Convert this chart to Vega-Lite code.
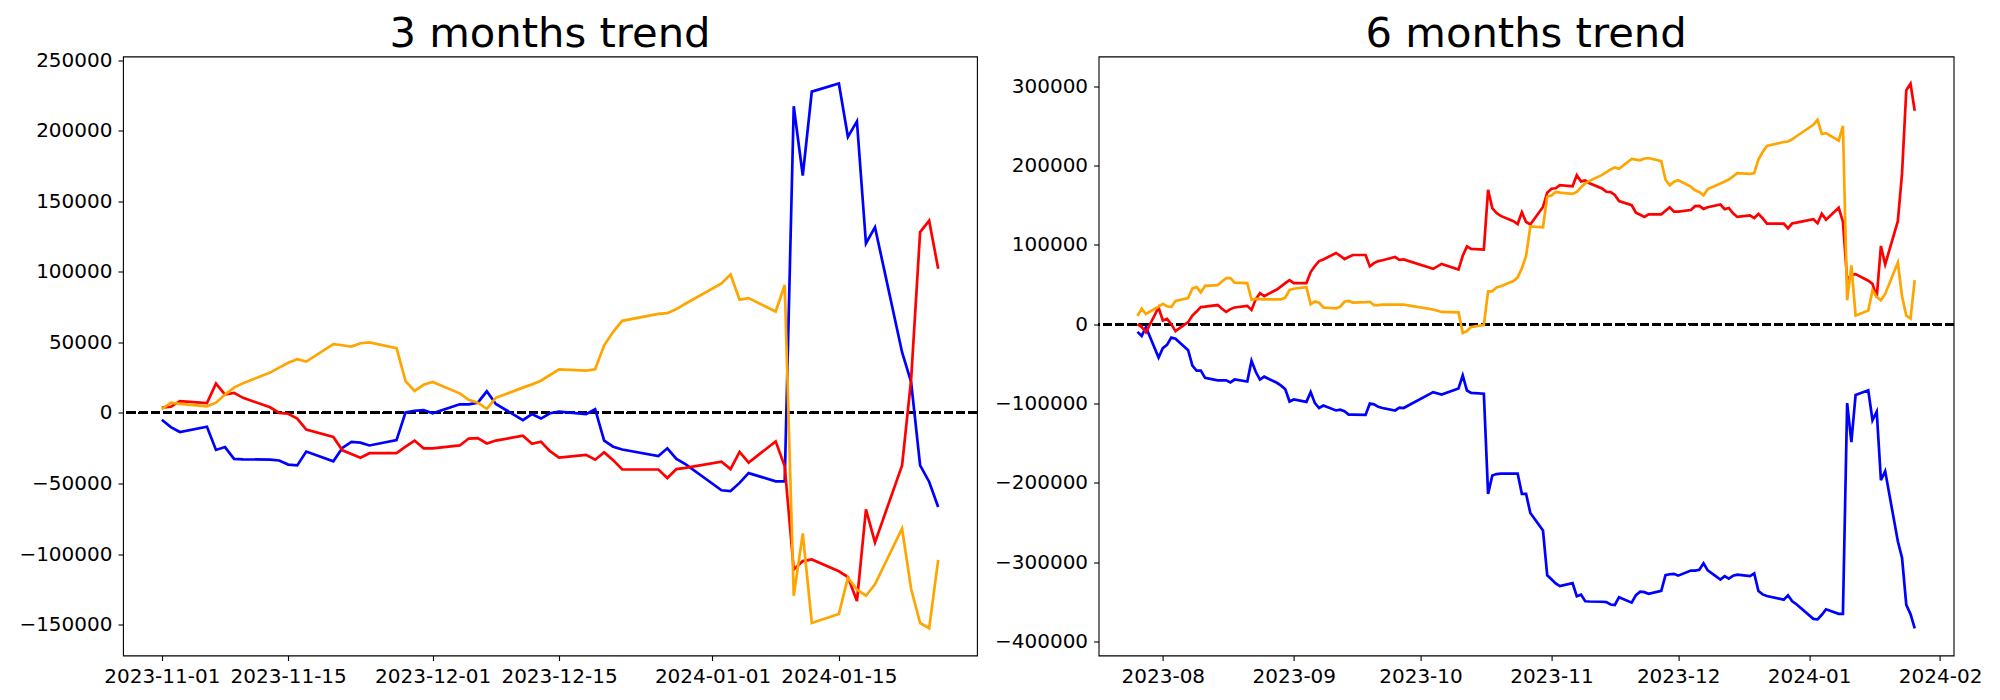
{
  "$schema": "https://vega.github.io/schema/vega-lite/v6.json",
  "background": "white",
  "padding": {"left": 18, "top": 12.5, "right": 0, "bottom": 0},
  "spacing": 121.6,
  "bounds": "flush",
  "config": {
    "font": "DejaVu Sans",
    "view": {"stroke": "black", "strokeWidth": 1.1},
    "axis": {
      "grid": false, "domain": false, "ticks": true, "tickColor": "black", "tickWidth": 1.1, "tickSize": 5,
      "labelFont": "DejaVu Sans", "labelFontSize": 20, "labelColor": "black", "labelPadding": 6,
      "labelOverlap": false, "labelFlush": false, "title": null
    },
    "title": {"font": "DejaVu Sans", "fontSize": 41.7, "fontWeight": "normal", "color": "black", "anchor": "middle", "frame": "group", "baseline": "alphabetic"}
  },
  "datasets": {
    "m3": [
      {"date":"2023-11-01","s1":-4900,"s2":3750,"s3":2600},
      {"date":"2023-11-02","s1":-10100,"s2":4330,"s3":7210},
      {"date":"2023-11-03","s1":-13560,"s2":8370,"s3":6350},
      {"date":"2023-11-06","s1":-9810,"s2":6920,"s3":4620},
      {"date":"2023-11-07","s1":-26250,"s2":20770,"s3":7210},
      {"date":"2023-11-08","s1":-24230,"s2":12980,"s3":12980},
      {"date":"2023-11-09","s1":-32600,"s2":14140,"s3":17890},
      {"date":"2023-11-10","s1":-32900,"s2":10670,"s3":21060},
      {"date":"2023-11-13","s1":-33180,"s2":4000,"s3":28560},
      {"date":"2023-11-14","s1":-33750,"s2":0,"s3":32020},
      {"date":"2023-11-15","s1":-36640,"s2":-580,"s3":35490},
      {"date":"2023-11-16","s1":-37220,"s2":-4040,"s3":38080},
      {"date":"2023-11-17","s1":-27400,"s2":-11830,"s3":36350},
      {"date":"2023-11-20","s1":-34330,"s2":-17020,"s3":48760},
      {"date":"2023-11-21","s1":-24810,"s2":-26540,"s3":47890},
      {"date":"2023-11-22","s1":-20480,"s2":-29140,"s3":47030},
      {"date":"2023-11-23","s1":-21060,"s2":-31740,"s3":49330},
      {"date":"2023-11-24","s1":-23080,"s2":-28560,"s3":49910},
      {"date":"2023-11-27","s1":-19330,"s2":-28560,"s3":45870},
      {"date":"2023-11-28","s1":300,"s2":-23950,"s3":22500},
      {"date":"2023-11-29","s1":1440,"s2":-19620,"s3":15580},
      {"date":"2023-11-30","s1":2020,"s2":-25100,"s3":19910},
      {"date":"2023-12-01","s1":-290,"s2":-25100,"s3":21930},
      {"date":"2023-12-04","s1":6060,"s2":-23080,"s3":13850},
      {"date":"2023-12-05","s1":6060,"s2":-18180,"s3":9230},
      {"date":"2023-12-06","s1":7210,"s2":-17890,"s3":7210},
      {"date":"2023-12-07","s1":15290,"s2":-21640,"s3":2890},
      {"date":"2023-12-08","s1":6350,"s2":-19620,"s3":10670},
      {"date":"2023-12-11","s1":-5190,"s2":-16160,"s3":17890},
      {"date":"2023-12-12","s1":-870,"s2":-21930,"s3":20200},
      {"date":"2023-12-13","s1":-4040,"s2":-20480,"s3":22790},
      {"date":"2023-12-14","s1":-290,"s2":-27120,"s3":26830},
      {"date":"2023-12-15","s1":870,"s2":-31740,"s3":30870},
      {"date":"2023-12-18","s1":-870,"s2":-29720,"s3":30000},
      {"date":"2023-12-19","s1":2600,"s2":-33180,"s3":30870},
      {"date":"2023-12-20","s1":-19620,"s2":-27980,"s3":47890},
      {"date":"2023-12-21","s1":-23950,"s2":-33470,"s3":57410},
      {"date":"2023-12-22","s1":-25970,"s2":-40100,"s3":65200},
      {"date":"2023-12-26","s1":-30580,"s2":-40100,"s3":70110},
      {"date":"2023-12-27","s1":-25100,"s2":-46160,"s3":70680},
      {"date":"2023-12-28","s1":-32600,"s2":-39810,"s3":73570},
      {"date":"2023-12-29","s1":-36350,"s2":-39000,"s3":77320},
      {"date":"2024-01-02","s1":-54800,"s2":-34620,"s3":91740},
      {"date":"2024-01-03","s1":-55390,"s2":-39810,"s3":98090},
      {"date":"2024-01-04","s1":-49620,"s2":-27700,"s3":80200},
      {"date":"2024-01-05","s1":-42700,"s2":-35200,"s3":81360},
      {"date":"2024-01-08","s1":-48470,"s2":-20200,"s3":71840},
      {"date":"2024-01-09","s1":-48470,"s2":-37790,"s3":90590},
      {"date":"2024-01-10","s1":217240,"s2":-111070,"s3":-129540},
      {"date":"2024-01-11","s1":168200,"s2":-105010,"s3":-85400},
      {"date":"2024-01-12","s1":227630,"s2":-103860,"s3":-148870},
      {"date":"2024-01-15","s1":233400,"s2":-112230,"s3":-142520},
      {"date":"2024-01-16","s1":195600,"s2":-116270,"s3":-116840},
      {"date":"2024-01-17","s1":206560,"s2":-133290,"s3":-125210},
      {"date":"2024-01-18","s1":120020,"s2":-68370,"s3":-129540},
      {"date":"2024-01-19","s1":131560,"s2":-91740,"s3":-121460},
      {"date":"2024-01-22","s1":42990,"s2":-37220,"s3":-81930},
      {"date":"2024-01-23","s1":21930,"s2":23370,"s3":-124630},
      {"date":"2024-01-24","s1":-37220,"s2":128090,"s3":-148870},
      {"date":"2024-01-25","s1":-48760,"s2":136170,"s3":-152620},
      {"date":"2024-01-26","s1":-66640,"s2":102130,"s3":-104150}
    ],
    "m6": [
      {"date":"2023-07-26","s1":-9750,"s2":0,"s3":10260},
      {"date":"2023-07-27","s1":-14880,"s2":-3590,"s3":19500},
      {"date":"2023-07-28","s1":-3590,"s2":-10260,"s3":12830},
      {"date":"2023-07-31","s1":-42080,"s2":21040,"s3":22000},
      {"date":"2023-08-01","s1":-30280,"s2":4620,"s3":25660},
      {"date":"2023-08-02","s1":-26170,"s2":6670,"s3":22600},
      {"date":"2023-08-03","s1":-16940,"s2":0,"s3":21500},
      {"date":"2023-08-04","s1":-18480,"s2":-8720,"s3":29300},
      {"date":"2023-08-07","s1":-32840,"s2":2570,"s3":33000},
      {"date":"2023-08-08","s1":-52350,"s2":10780,"s3":45150},
      {"date":"2023-08-09","s1":-58500,"s2":15900,"s3":46700},
      {"date":"2023-08-10","s1":-58500,"s2":21550,"s3":40030},
      {"date":"2023-08-11","s1":-67750,"s2":22070,"s3":48240},
      {"date":"2023-08-14","s1":-70820,"s2":24120,"s3":49270},
      {"date":"2023-08-15","s1":-70820,"s2":19500,"s3":53900},
      {"date":"2023-08-16","s1":-70820,"s2":15400,"s3":57990},
      {"date":"2023-08-17","s1":-73390,"s2":18990,"s3":57990},
      {"date":"2023-08-18","s1":-69800,"s2":21040,"s3":52350},
      {"date":"2023-08-21","s1":-72360,"s2":23090,"s3":51830},
      {"date":"2023-08-22","s1":-46190,"s2":17960,"s3":30790},
      {"date":"2023-08-23","s1":-60040,"s2":31310,"s3":31820},
      {"date":"2023-08-24","s1":-69800,"s2":39000,"s3":31500},
      {"date":"2023-08-25","s1":-66200,"s2":35410,"s3":31310},
      {"date":"2023-08-28","s1":-73900,"s2":43620,"s3":31310},
      {"date":"2023-08-29","s1":-77490,"s2":47730,"s3":31310},
      {"date":"2023-08-30","s1":-82110,"s2":51830,"s3":33360},
      {"date":"2023-08-31","s1":-97510,"s2":55430,"s3":43110},
      {"date":"2023-09-01","s1":-94940,"s2":51830,"s3":44650},
      {"date":"2023-09-04","s1":-98020,"s2":51830,"s3":46700},
      {"date":"2023-09-05","s1":-85700,"s2":65700,"s3":25150},
      {"date":"2023-09-06","s1":-99560,"s2":73400,"s3":28740},
      {"date":"2023-09-07","s1":-105720,"s2":79550,"s3":27200},
      {"date":"2023-09-08","s1":-102640,"s2":81600,"s3":21040},
      {"date":"2023-09-11","s1":-108800,"s2":89800,"s3":20010},
      {"date":"2023-09-12","s1":-107770,"s2":86200,"s3":22070},
      {"date":"2023-09-13","s1":-109820,"s2":82110,"s3":28230},
      {"date":"2023-09-14","s1":-113930,"s2":84680,"s3":29250},
      {"date":"2023-09-15","s1":-113930,"s2":87240,"s3":27200},
      {"date":"2023-09-18","s1":-114440,"s2":87240,"s3":27710},
      {"date":"2023-09-19","s1":-100070,"s2":72870,"s3":28230},
      {"date":"2023-09-20","s1":-101100,"s2":76980,"s3":24120},
      {"date":"2023-09-21","s1":-104180,"s2":79550,"s3":24120},
      {"date":"2023-09-22","s1":-105720,"s2":80570,"s3":24630},
      {"date":"2023-09-25","s1":-108800,"s2":84680,"s3":24630},
      {"date":"2023-09-26","s1":-105210,"s2":81090,"s3":24630},
      {"date":"2023-09-27","s1":-105720,"s2":81600,"s3":24630},
      {"date":"2023-10-04","s1":-85700,"s2":69800,"s3":18480},
      {"date":"2023-10-06","s1":-88780,"s2":75950,"s3":15400},
      {"date":"2023-10-10","s1":-81090,"s2":68770,"s3":14880},
      {"date":"2023-10-11","s1":-64660,"s2":86200,"s3":-11290},
      {"date":"2023-10-12","s1":-83650,"s2":98020,"s3":-8720},
      {"date":"2023-10-13","s1":-86730,"s2":94940,"s3":-3590},
      {"date":"2023-10-16","s1":-87760,"s2":93910,"s3":-1030},
      {"date":"2023-10-17","s1":-214000,"s2":169360,"s3":41060},
      {"date":"2023-10-18","s1":-190900,"s2":146260,"s3":41570},
      {"date":"2023-10-19","s1":-189000,"s2":140100,"s3":46190},
      {"date":"2023-10-20","s1":-188350,"s2":136510,"s3":47700},
      {"date":"2023-10-23","s1":-188350,"s2":129840,"s3":54400},
      {"date":"2023-10-24","s1":-188350,"s2":126250,"s3":59020},
      {"date":"2023-10-25","s1":-214000,"s2":141130,"s3":70310},
      {"date":"2023-10-26","s1":-214000,"s2":128810,"s3":86220},
      {"date":"2023-10-27","s1":-238120,"s2":125730,"s3":123170},
      {"date":"2023-10-30","s1":-260190,"s2":147800,"s3":122140},
      {"date":"2023-10-31","s1":-316640,"s2":165760,"s3":160630},
      {"date":"2023-11-01","s1":-321700,"s2":170750,"s3":162200},
      {"date":"2023-11-02","s1":-326900,"s2":171330,"s3":166810},
      {"date":"2023-11-03","s1":-330360,"s2":175370,"s3":165950},
      {"date":"2023-11-06","s1":-326610,"s2":173920,"s3":164220},
      {"date":"2023-11-07","s1":-343050,"s2":187770,"s3":166810},
      {"date":"2023-11-08","s1":-341030,"s2":179980,"s3":172580},
      {"date":"2023-11-09","s1":-349400,"s2":181140,"s3":177490},
      {"date":"2023-11-10","s1":-349700,"s2":177670,"s3":180660},
      {"date":"2023-11-13","s1":-349980,"s2":171000,"s3":188160},
      {"date":"2023-11-14","s1":-350550,"s2":167000,"s3":191620},
      {"date":"2023-11-15","s1":-353440,"s2":166420,"s3":195090},
      {"date":"2023-11-16","s1":-354020,"s2":162960,"s3":197680},
      {"date":"2023-11-17","s1":-344200,"s2":155170,"s3":195950},
      {"date":"2023-11-20","s1":-351130,"s2":149980,"s3":208360},
      {"date":"2023-11-21","s1":-341610,"s2":140460,"s3":207490},
      {"date":"2023-11-22","s1":-337280,"s2":137860,"s3":206630},
      {"date":"2023-11-23","s1":-337860,"s2":135260,"s3":208930},
      {"date":"2023-11-24","s1":-339880,"s2":138440,"s3":209510},
      {"date":"2023-11-27","s1":-336130,"s2":138440,"s3":205470},
      {"date":"2023-11-28","s1":-316500,"s2":143050,"s3":182100},
      {"date":"2023-11-29","s1":-315360,"s2":147380,"s3":175180},
      {"date":"2023-11-30","s1":-314780,"s2":141900,"s3":179510},
      {"date":"2023-12-01","s1":-317090,"s2":141900,"s3":181530},
      {"date":"2023-12-04","s1":-310740,"s2":143920,"s3":173450},
      {"date":"2023-12-05","s1":-310740,"s2":148820,"s3":168830},
      {"date":"2023-12-06","s1":-309590,"s2":149110,"s3":166810},
      {"date":"2023-12-07","s1":-301510,"s2":145360,"s3":162490},
      {"date":"2023-12-08","s1":-310450,"s2":147380,"s3":170270},
      {"date":"2023-12-11","s1":-321990,"s2":150840,"s3":177490},
      {"date":"2023-12-12","s1":-317670,"s2":145070,"s3":179800},
      {"date":"2023-12-13","s1":-320840,"s2":146520,"s3":182390},
      {"date":"2023-12-14","s1":-317090,"s2":139880,"s3":186430},
      {"date":"2023-12-15","s1":-315930,"s2":135260,"s3":190470},
      {"date":"2023-12-18","s1":-317670,"s2":137280,"s3":189600},
      {"date":"2023-12-19","s1":-314200,"s2":133820,"s3":190470},
      {"date":"2023-12-20","s1":-336420,"s2":139020,"s3":207490},
      {"date":"2023-12-21","s1":-340750,"s2":133530,"s3":217010},
      {"date":"2023-12-22","s1":-342770,"s2":126900,"s3":224800},
      {"date":"2023-12-26","s1":-347380,"s2":126900,"s3":229710},
      {"date":"2023-12-27","s1":-341900,"s2":120840,"s3":230280},
      {"date":"2023-12-28","s1":-349400,"s2":127190,"s3":233170},
      {"date":"2023-12-29","s1":-353150,"s2":128000,"s3":236920},
      {"date":"2024-01-02","s1":-371600,"s2":132380,"s3":251340},
      {"date":"2024-01-03","s1":-372190,"s2":127190,"s3":257690},
      {"date":"2024-01-04","s1":-366420,"s2":139300,"s3":239800},
      {"date":"2024-01-05","s1":-359500,"s2":131800,"s3":240960},
      {"date":"2024-01-08","s1":-365270,"s2":146800,"s3":231440},
      {"date":"2024-01-09","s1":-365270,"s2":129210,"s3":250190},
      {"date":"2024-01-10","s1":-99560,"s2":55930,"s3":30060},
      {"date":"2024-01-11","s1":-148600,"s2":61990,"s3":74200},
      {"date":"2024-01-12","s1":-89170,"s2":63140,"s3":10730},
      {"date":"2024-01-15","s1":-83400,"s2":54770,"s3":17080},
      {"date":"2024-01-16","s1":-121200,"s2":50730,"s3":42760},
      {"date":"2024-01-17","s1":-110240,"s2":33710,"s3":34390},
      {"date":"2024-01-18","s1":-196780,"s2":98630,"s3":30060},
      {"date":"2024-01-19","s1":-185240,"s2":75260,"s3":38140},
      {"date":"2024-01-22","s1":-273810,"s2":129780,"s3":77670},
      {"date":"2024-01-23","s1":-294870,"s2":190370,"s3":34970},
      {"date":"2024-01-24","s1":-354020,"s2":295090,"s3":10730},
      {"date":"2024-01-25","s1":-365560,"s2":303170,"s3":6980},
      {"date":"2024-01-26","s1":-383440,"s2":269130,"s3":55450}
    ]
  },
  "hconcat": [
    {
      "title": {"text": "3 months trend", "offset": -5.6},
      "width": 854,
      "height": 599,
      "data": {"name": "m3"},
      "encoding": {
        "x": {
          "field": "date", "type": "temporal",
          "scale": {"type": "utc", "domain": [{"year": 2023, "month": 10, "date": 27, "hours": 16, "minutes": 48, "utc": true}, {"year": 2024, "month": 1, "date": 30, "hours": 7, "minutes": 12, "utc": true}]},
          "axis": {
            "labelExpr": "utcFormat(datum.value, '%Y-%m-%d')",
            "values": [
              {"year": 2023, "month": 11, "date": 1, "utc": true},
              {"year": 2023, "month": 11, "date": 15, "utc": true},
              {"year": 2023, "month": 12, "date": 1, "utc": true},
              {"year": 2023, "month": 12, "date": 15, "utc": true},
              {"year": 2024, "month": 1, "date": 1, "utc": true},
              {"year": 2024, "month": 1, "date": 15, "utc": true}
            ]
          }
        }
      },
      "layer": [
        {
          "mark": {"type": "rule", "color": "black", "strokeWidth": 2.2, "strokeDash": [8.5, 3.7]},
          "encoding": {"y": {"datum": 0, "type": "quantitative"}, "x": null}
        },
        {
          "mark": {"type": "line", "color": "#0000ff", "strokeWidth": 2.7, "clip": true},
          "encoding": {
            "y": {
              "field": "s1", "type": "quantitative",
              "scale": {"domain": [-171900, 252500], "nice": false, "zero": false},
              "axis": {"format": "d", "values": [-150000, -100000, -50000, 0, 50000, 100000, 150000, 200000, 250000]}
            }
          }
        },
        {
          "mark": {"type": "line", "color": "#ff0000", "strokeWidth": 2.7, "clip": true},
          "encoding": {"y": {"field": "s2", "type": "quantitative"}}
        },
        {
          "mark": {"type": "line", "color": "#ffa500", "strokeWidth": 2.7, "clip": true},
          "encoding": {"y": {"field": "s3", "type": "quantitative"}}
        }
      ]
    },
    {
      "title": {"text": "6 months trend", "offset": 0.9},
      "width": 855,
      "height": 599,
      "data": {"name": "m6"},
      "encoding": {
        "x": {
          "field": "date", "type": "temporal",
          "scale": {"type": "utc", "domain": [{"year": 2023, "month": 7, "date": 16, "hours": 19, "minutes": 12, "utc": true}, {"year": 2024, "month": 2, "date": 4, "hours": 4, "minutes": 48, "utc": true}]},
          "axis": {
            "labelExpr": "utcFormat(datum.value, '%Y-%m')",
            "values": [
              {"year": 2023, "month": 8, "date": 1, "utc": true},
              {"year": 2023, "month": 9, "date": 1, "utc": true},
              {"year": 2023, "month": 10, "date": 1, "utc": true},
              {"year": 2023, "month": 11, "date": 1, "utc": true},
              {"year": 2023, "month": 12, "date": 1, "utc": true},
              {"year": 2024, "month": 1, "date": 1, "utc": true},
              {"year": 2024, "month": 2, "date": 1, "utc": true}
            ]
          }
        }
      },
      "layer": [
        {
          "mark": {"type": "rule", "color": "black", "strokeWidth": 2.2, "strokeDash": [8.5, 3.7]},
          "encoding": {"y": {"datum": 0, "type": "quantitative"}, "x": null}
        },
        {
          "mark": {"type": "line", "color": "#0000ff", "strokeWidth": 2.7, "clip": true},
          "encoding": {
            "y": {
              "field": "s1", "type": "quantitative",
              "scale": {"domain": [-417770, 337500], "nice": false, "zero": false},
              "axis": {"format": "d", "values": [-400000, -300000, -200000, -100000, 0, 100000, 200000, 300000]}
            }
          }
        },
        {
          "mark": {"type": "line", "color": "#ff0000", "strokeWidth": 2.7, "clip": true},
          "encoding": {"y": {"field": "s2", "type": "quantitative"}}
        },
        {
          "mark": {"type": "line", "color": "#ffa500", "strokeWidth": 2.7, "clip": true},
          "encoding": {"y": {"field": "s3", "type": "quantitative"}}
        }
      ]
    }
  ]
}
